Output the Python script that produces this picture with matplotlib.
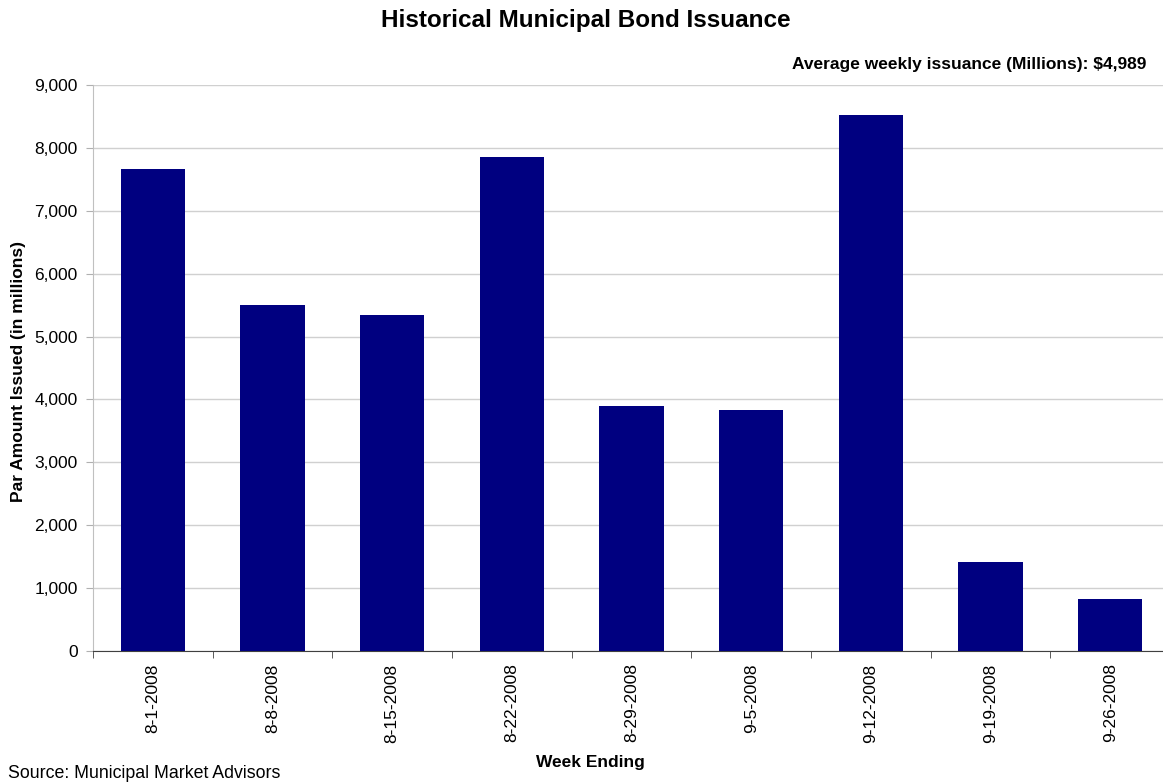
import matplotlib
matplotlib.use("Agg")
import matplotlib.pyplot as plt
import numpy as np
from matplotlib.ticker import FuncFormatter

plt.rcParams['font.family'] = ['Liberation Sans', 'DejaVu Sans']

weeks = ["8-1-2008", "8-8-2008", "8-15-2008", "8-22-2008", "8-29-2008",
         "9-5-2008", "9-12-2008", "9-19-2008", "9-26-2008"]
issuance = [7670, 5500, 5340, 7860, 3900, 3830, 8530, 1420, 830]
avg_text = "Average weekly issuance (Millions): $4,989"

W, H = 1163, 782
fig = plt.figure(figsize=(W / 100, H / 100), dpi=100)
ax = fig.add_axes([93 / W, 1 - 651 / H, (1170 - 93) / W, (651 - 85) / H])

x = np.arange(len(weeks))
ax.bar(x, issuance, width=0.535, color="#000080", zorder=3)

ax.set_xlim(-0.5, len(weeks) - 0.5)
ax.set_ylim(0, 9000)
ax.set_yticks(np.arange(0, 9001, 1000))
ax.yaxis.set_major_formatter(FuncFormatter(lambda v, p: f"{int(v):,}"))
ax.grid(axis="y", color="#d0d0d0", linewidth=1.0, zorder=0)
ax.set_axisbelow(True)

ax.set_xticks(x)
ax.set_xticklabels(weeks, rotation=90, fontsize=12.5)
ax.set_xticks(np.arange(-0.5, len(weeks)), minor=True)
ax.tick_params(axis="x", which="major", length=0, pad=9)
ax.tick_params(axis="x", which="minor", length=5, color="#404040", direction="out")
ax.tick_params(axis="y", length=5, color="#b0b0b0", labelsize=12.5, pad=6)

for s in ["top", "right"]:
    ax.spines[s].set_visible(False)
ax.spines["left"].set_color("#c0c0c0")
ax.spines["bottom"].set_color("#404040")

fig.text(586 / W, 1 - 21 / H, "Historical Municipal Bond Issuance",
         ha="center", va="center", fontsize=17.5, fontweight="bold")
fig.text(1146 / W, 1 - 65 / H, avg_text, ha="right", va="center",
         fontsize=12.5, fontweight="bold")
fig.text(19 / W, 1 - 372 / H, "Par Amount Issued (in millions)", rotation=90,
         ha="center", va="center", fontsize=12.5, fontweight="bold")
fig.text(590 / W, 1 - 762 / H, "Week Ending", ha="center", va="center",
         fontsize=12.5, fontweight="bold")
fig.text(8 / W, 1 - 773 / H, "Source: Municipal Market Advisors", ha="left",
         va="center", fontsize=12.75)

fig.savefig("out.png", dpi=100)
